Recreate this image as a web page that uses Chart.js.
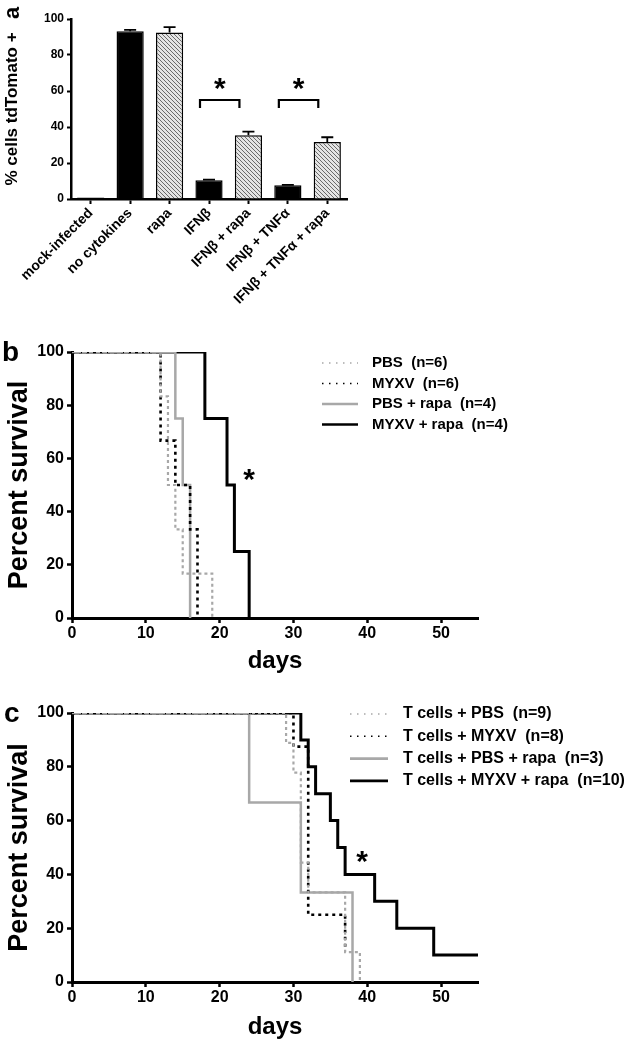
<!DOCTYPE html>
<html>
<head>
<meta charset="utf-8">
<script src="https://cdn.jsdelivr.net/npm/chart.js@4.4.0/dist/chart.umd.min.js"></script>
<style>
  body { margin: 0; background: #fff; width: 630px; height: 1050px; position: relative; overflow: hidden; }
  canvas { position: absolute; left: 0; }
</style>
</head>
<body>
<canvas id="chartA" width="370" height="320" style="top:0px"></canvas>
<canvas id="chartB" width="630" height="360" style="top:320px"></canvas>
<canvas id="chartC" width="630" height="370" style="top:680px"></canvas>
<script>
// ---- Panel a: % cells tdTomato+ ----
const aCategories = ['mock-infected', 'no cytokines', 'rapa', 'IFNβ', 'IFNβ + rapa', 'IFNβ + TNFα', 'IFNβ + TNFα + rapa'];
const aValues = [0.8, 93.2, 92.5, 10.4, 35.4, 7.6, 31.6];
const aErrors = [0, 0.8, 3, 0.4, 2, 0.3, 2.7];
const aHatched = [false, false, true, false, true, false, true];
const aBrackets = [[3, 4], [5, 6]];
const aYTicks = [0, 20, 40, 60, 80, 100];

// ---- Panel b: survival ----
const bDays = [0, 10, 20, 30, 40, 50];
const bPbs = [[0, 100], [12, 83.3], [13, 50], [14, 33.3], [15, 16.7], [19, 0]];
const bMyxv = [[0, 100], [12, 66.7], [14, 50], [16, 33.3], [17, 0]];
const bPbsRapa = [[0, 100], [14, 75], [15, 50], [16, 0]];
const bMyxvRapa = [[0, 100], [18, 75], [21, 50], [22, 25], [24, 0]];

// ---- Panel c: survival with T cells ----
const cPbs = [[0, 100], [29, 88.9], [30, 77.8], [31, 44.4], [32, 33.3], [37, 11.1], [39, 0]];
const cMyxv = [[0, 100], [30, 87.5], [32, 25], [37, 12.5]];
const cPbsRapa = [[0, 100], [24, 66.7], [31, 33.3], [38, 0]];
const cMyxvRapa = [[0, 100], [31, 90], [32, 80], [33, 70], [35, 60], [36, 50], [37, 40], [41, 30], [44, 20], [49, 10], [55, 10]];

const FONT = '"Liberation Sans", Arial, sans-serif';
Chart.defaults.font.family = FONT;
Chart.defaults.color = '#000';

function toPts(arr) { return arr.map(p => ({ x: p[0], y: p[1] })); }

function hatchPattern() {
  const s = 4;
  const c = document.createElement('canvas');
  c.width = s; c.height = s;
  const g = c.getContext('2d');
  g.fillStyle = '#e4e4e4';
  g.fillRect(0, 0, s, s);
  g.strokeStyle = '#6a6a6a';
  g.lineWidth = 1;
  g.beginPath();
  g.moveTo(0, 0); g.lineTo(s, s);
  g.moveTo(s - 1, -1); g.lineTo(s + 1, 1);
  g.moveTo(-1, s - 1); g.lineTo(1, s + 1);
  g.stroke();
  return g.createPattern(c, 'repeat');
}

// error bars (upper only) + significance brackets for panel a
const barExtras = {
  id: 'barExtras',
  afterDatasetsDraw(chart) {
    const ctx = chart.ctx;
    const meta = chart.getDatasetMeta(0);
    const y = chart.scales.y;
    ctx.save();
    ctx.strokeStyle = '#000';
    ctx.lineWidth = 1.8;
    meta.data.forEach((bar, i) => {
      if (!aErrors[i]) return;
      const top = y.getPixelForValue(aValues[i] + aErrors[i]);
      ctx.beginPath();
      ctx.moveTo(bar.x, bar.y);
      ctx.lineTo(bar.x, top);
      ctx.moveTo(bar.x - 6, top);
      ctx.lineTo(bar.x + 6, top);
      ctx.stroke();
    });
    ctx.lineWidth = 2.2;
    ctx.font = 'bold 30px ' + FONT;
    ctx.textAlign = 'center';
    ctx.textBaseline = 'middle';
    ctx.fillStyle = '#000';
    aBrackets.forEach(([i, j]) => {
      const x1 = meta.data[i].x - 9;
      const x2 = meta.data[j].x - 9;
      const yb = y.getPixelForValue(55);
      const yl = y.getPixelForValue(50.5);
      ctx.beginPath();
      ctx.moveTo(x1, yl); ctx.lineTo(x1, yb); ctx.lineTo(x2, yb); ctx.lineTo(x2, yl);
      ctx.stroke();
      ctx.fillText('*', (x1 + x2) / 2, y.getPixelForValue(60.5));
    });
    // panel letter
    ctx.save();
    ctx.translate(13, 13);
    ctx.rotate(-Math.PI / 2);
    ctx.font = 'bold 22px ' + FONT;
    ctx.fillText('a', 0, 0);
    ctx.restore();
    ctx.restore();
  }
};

new Chart(document.getElementById('chartA'), {
  type: 'bar',
  data: {
    labels: aCategories,
    datasets: [{
      data: aValues,
      backgroundColor: aHatched.map(h => h ? hatchPattern() : '#000'),
      borderColor: '#000',
      borderWidth: 1.5,
      categoryPercentage: 1,
      barPercentage: 0.69
    }]
  },
  options: {
    responsive: false,
    animation: false,
    layout: { padding: { top: 19, right: 23, left: 0, bottom: 0 } },
    plugins: { legend: { display: false }, tooltip: { enabled: false } },
    scales: {
      x: {
        grid: { display: true, drawOnChartArea: false, offset: false, tickLength: 5, tickWidth: 2, tickColor: '#000' },
        border: { color: '#000', width: 2.5 },
        ticks: { font: { size: 14, weight: 'bold' }, maxRotation: 45, minRotation: 45, padding: 1, color: '#000' },
        afterFit(scale) { scale.height = 121; }
      },
      y: {
        min: 0, max: 100,
        afterBuildTicks(scale) { scale.ticks = aYTicks.map(v => ({ value: v })); },
        grid: { display: true, drawOnChartArea: false, tickLength: 4, tickWidth: 2, tickColor: '#000' },
        border: { color: '#000', width: 2.5 },
        ticks: { font: { size: 12, weight: 'bold' }, padding: 3, color: '#000' },
        title: { display: true, text: '% cells tdTomato +', font: { size: 17, weight: 'bold' }, padding: { top: 2, bottom: 0 }, color: '#000' },
        afterFit(scale) { scale.width = 71; }
      }
    }
  },
  plugins: [barExtras]
});

// ---- survival panels ----
const lineStyles = [
  { color: '#a8a8a8', dash: [3, 3], width: 2.2 },
  { color: '#000', dash: [3, 4], width: 2.6 },
  { color: '#a8a8a8', dash: [], width: 2.5 },
  { color: '#000', dash: [], width: 3 }
];

function survivalDatasets(series, labels) {
  return series.map((s, i) => ({
    label: labels[i],
    data: toPts(s),
    stepped: 'before',
    borderColor: lineStyles[i].color,
    borderDash: lineStyles[i].dash,
    borderWidth: lineStyles[i].width,
    pointRadius: 0,
    fill: false
  }));
}

function survivalExtras(letter, letterPos, star, legendPos, fontSize) {
  return {
    id: 'survivalExtras',
    afterDatasetsDraw(chart) {
      const ctx = chart.ctx;
      const xs = chart.scales.x, ys = chart.scales.y;
      ctx.save();
      ctx.fillStyle = '#000';
      ctx.textBaseline = 'middle';
      ctx.textAlign = 'left';
      ctx.font = 'bold 28px ' + FONT;
      ctx.fillText(letter, letterPos[0], letterPos[1]);
      ctx.textAlign = 'center';
      ctx.font = 'bold 30px ' + FONT;
      ctx.fillText('*', xs.getPixelForValue(star[0]), ys.getPixelForValue(star[1]) + 6);
      // legend
      ctx.textAlign = 'left';
      ctx.font = 'bold ' + fontSize + 'px ' + FONT;
      chart.data.datasets.forEach((ds, i) => {
        const yy = legendPos.y + i * legendPos.dy;
        ctx.strokeStyle = ds.borderColor;
        ctx.lineWidth = ds.borderDash.length ? 1.6 : 2.6;
        ctx.setLineDash(ds.borderDash.length ? [1.5, 5.5] : []);
        ctx.beginPath();
        ctx.moveTo(legendPos.x, yy);
        ctx.lineTo(legendPos.x + legendPos.len, yy);
        ctx.stroke();
        ctx.setLineDash([]);
        ctx.fillText(ds.label, legendPos.tx, yy);
      });
      ctx.restore();
    }
  };
}

function survivalOptions(axisHeight) {
  return {
    responsive: false,
    animation: false,
    layout: { padding: { left: 0, right: 152, top: 32, bottom: 0 } },
    plugins: { legend: { display: false }, tooltip: { enabled: false } },
    scales: {
      x: {
        type: 'linear', min: 0, max: 55,
        afterBuildTicks(scale) { scale.ticks = bDays.map(v => ({ value: v })); },
        grid: { display: true, drawOnChartArea: false, tickLength: 5, tickWidth: 2.5, tickColor: '#000' },
        border: { color: '#000', width: 3 },
        ticks: { font: { size: 16, weight: 'bold' }, padding: 1, color: '#000', maxRotation: 0 },
        title: { display: true, text: 'days', font: { size: 24, weight: 'bold' }, padding: { top: 4, bottom: 4 }, color: '#000' },
        afterFit(scale) { scale.height = axisHeight; }
      },
      y: {
        min: 0, max: 100,
        afterBuildTicks(scale) { scale.ticks = aYTicks.map(v => ({ value: v })); },
        grid: { display: true, drawOnChartArea: false, tickLength: 5, tickWidth: 2.5, tickColor: '#000' },
        border: { color: '#000', width: 3 },
        ticks: { font: { size: 16, weight: 'bold' }, padding: 3, color: '#000' },
        title: { display: true, text: 'Percent survival', font: { size: 27, weight: 'bold' }, padding: { top: 3, bottom: 0 }, color: '#000' },
        afterFit(scale) { scale.width = 72; }
      }
    }
  };
}

new Chart(document.getElementById('chartB'), {
  type: 'line',
  data: {
    datasets: survivalDatasets([bPbs, bMyxv, bPbsRapa, bMyxvRapa],
      ['PBS  (n=6)', 'MYXV  (n=6)', 'PBS + rapa  (n=4)', 'MYXV + rapa  (n=4)'])
  },
  options: survivalOptions(62),
  plugins: [survivalExtras('b', [2, 33], [24, 54], { x: 322, len: 36, tx: 372, y: 43, dy: 20.5 }, 15)]
});

new Chart(document.getElementById('chartC'), {
  type: 'line',
  data: {
    datasets: survivalDatasets([cPbs, cMyxv, cPbsRapa, cMyxvRapa],
      ['T cells + PBS  (n=9)', 'T cells + MYXV  (n=8)', 'T cells + PBS + rapa  (n=3)', 'T cells + MYXV + rapa  (n=10)'])
  },
  options: (() => {
    const o = survivalOptions(64);
    o.layout.padding.top = 33;
    o.layout.padding.bottom = 4;
    return o;
  })(),
  plugins: [survivalExtras('c', [4, 34], [39.3, 46.5], { x: 350, len: 38, tx: 403, y: 34, dy: 22.3 }, 16)]
});
</script>
</body>
</html>
